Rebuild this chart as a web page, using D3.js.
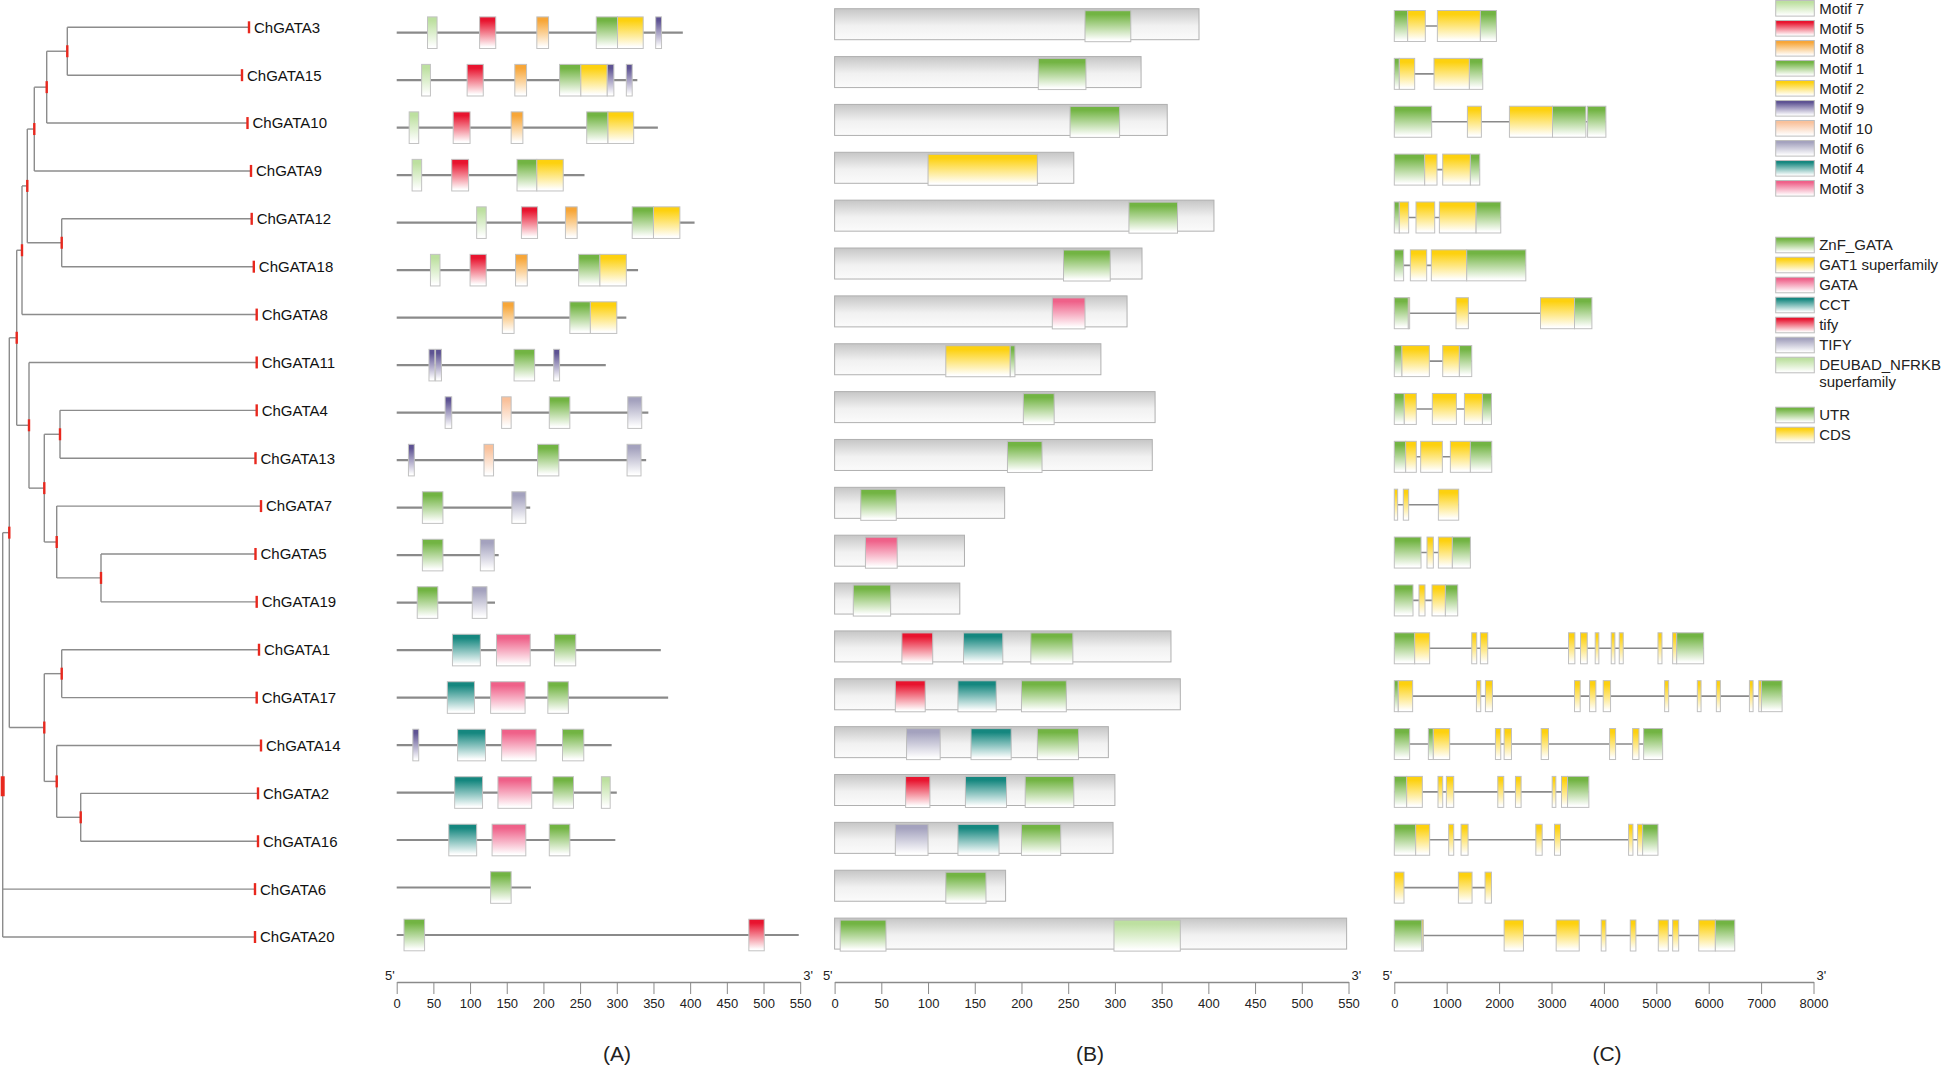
<!DOCTYPE html>
<html>
<head>
    <title>ChGATA gene family</title>
    <script src="https://d3js.org/d3.v7.min.js"></script>
    <style>
        body { margin: 0; background: #fff; }
        text { font-family: "Liberation Sans", Arial, sans-serif; }
    </style>
</head>
<body>
<script>
// gene order, top to bottom
const genes = ["ChGATA3","ChGATA15","ChGATA10","ChGATA9","ChGATA12","ChGATA18","ChGATA8","ChGATA11","ChGATA4","ChGATA13",
               "ChGATA7","ChGATA5","ChGATA19","ChGATA1","ChGATA17","ChGATA14","ChGATA2","ChGATA16","ChGATA6","ChGATA20"];

// tree with branch lengths
const treeNewick = "((((((((ChGATA3:181.7,ChGATA15:174.7):20.6,ChGATA10:200.8):12.4,ChGATA9:216.7):7,(ChGATA12:190,ChGATA18:192.1):34.4):5.3,ChGATA8:234.7):5.3," +
    "(ChGATA11:227.7,((ChGATA4:196.7,ChGATA13:195.5):15.7,(ChGATA7:204.3,(ChGATA5:154.5,ChGATA19:155.7):44.3):12.4):15.3):12.3):7.4," +
    "((ChGATA1:197.3,ChGATA17:195):17.4,(ChGATA14:204.3,(ChGATA2:177.3,ChGATA16:177.3):24):12.4):35):6.6,ChGATA6:252.3,ChGATA20:252.3);";

const proteinLength = [390,328,356,256,406,329,313,285,343,340,182,139,134,360,370,293,300,298,183,548];

const motifNames  = ["Motif 7","Motif 5","Motif 8","Motif 1","Motif 2","Motif 9","Motif 10","Motif 6","Motif 4","Motif 3"];
const motifColors = ["#bde0a0","#e8142f","#f7a638","#72b443","#fdd10f","#5e5393","#f9c19b","#a4a2be","#15877f","#ef6189"];
const domainNames  = ["ZnF_GATA","GAT1 superfamily","GATA","CCT","tify","TIFY","DEUBAD_NFRKB superfamily"];
const domainColors = ["#72b443","#fdd10f","#ef6189","#15877f","#e8142f","#a4a2be","#bde0a0"];
const partNames  = ["UTR","CDS"];
const partColors = ["#72b443","#fdd10f"];

const aaTicks = [0,50,100,150,200,250,300,350,400,450,500,550];
const bpTicks = [0,1000,2000,3000,4000,5000,6000,7000,8000];

// [gene, motif, start, end] in aa
const motifHits = [
    ["ChGATA3","Motif 7",42,55],["ChGATA3","Motif 5",113,135],["ChGATA3","Motif 8",191,207],["ChGATA3","Motif 1",272,301],["ChGATA3","Motif 2",301,336],["ChGATA3","Motif 9",353,361],
    ["ChGATA15","Motif 7",34,46],["ChGATA15","Motif 5",96,118],["ChGATA15","Motif 8",161,177],["ChGATA15","Motif 1",222,251],["ChGATA15","Motif 2",251,287],["ChGATA15","Motif 9",287,296],["ChGATA15","Motif 9",313,321],
    ["ChGATA10","Motif 7",17,30],["ChGATA10","Motif 5",77,100],["ChGATA10","Motif 8",156,172],["ChGATA10","Motif 1",259,288],["ChGATA10","Motif 2",288,323],
    ["ChGATA9","Motif 7",21,34],["ChGATA9","Motif 5",75,98],["ChGATA9","Motif 1",164,191],["ChGATA9","Motif 2",191,227],
    ["ChGATA12","Motif 7",109,122],["ChGATA12","Motif 5",170,192],["ChGATA12","Motif 8",230,246],["ChGATA12","Motif 1",321,350],["ChGATA12","Motif 2",350,386],
    ["ChGATA18","Motif 7",46,59],["ChGATA18","Motif 5",100,122],["ChGATA18","Motif 8",162,178],["ChGATA18","Motif 1",248,277],["ChGATA18","Motif 2",277,313],
    ["ChGATA8","Motif 8",144,160],["ChGATA8","Motif 1",236,264],["ChGATA8","Motif 2",264,300],
    ["ChGATA11","Motif 9",44,52],["ChGATA11","Motif 9",53,61],["ChGATA11","Motif 1",160,188],["ChGATA11","Motif 9",214,222],
    ["ChGATA4","Motif 9",66,75],["ChGATA4","Motif 10",143,156],["ChGATA4","Motif 1",208,236],["ChGATA4","Motif 6",315,334],
    ["ChGATA13","Motif 9",16,24],["ChGATA13","Motif 10",119,132],["ChGATA13","Motif 1",192,221],["ChGATA13","Motif 6",314,333],
    ["ChGATA7","Motif 1",35,63],["ChGATA7","Motif 6",157,176],
    ["ChGATA5","Motif 1",35,63],["ChGATA5","Motif 6",114,133],
    ["ChGATA19","Motif 1",28,56],["ChGATA19","Motif 6",103,123],
    ["ChGATA1","Motif 4",76,114],["ChGATA1","Motif 3",136,182],["ChGATA1","Motif 1",215,244],
    ["ChGATA17","Motif 4",69,106],["ChGATA17","Motif 3",128,175],["ChGATA17","Motif 1",206,234],
    ["ChGATA14","Motif 9",22,30],["ChGATA14","Motif 4",83,121],["ChGATA14","Motif 3",143,190],["ChGATA14","Motif 1",226,255],
    ["ChGATA2","Motif 4",79,117],["ChGATA2","Motif 3",138,184],["ChGATA2","Motif 1",213,241],["ChGATA2","Motif 7",279,291],
    ["ChGATA16","Motif 4",71,109],["ChGATA16","Motif 3",130,176],["ChGATA16","Motif 1",208,236],
    ["ChGATA6","Motif 1",128,156],
    ["ChGATA20","Motif 1",10,38],["ChGATA20","Motif 5",480,501]
];

// [gene, domain, start, end] in aa
const domainHits = [
    ["ChGATA3","ZnF_GATA",268,317],["ChGATA15","ZnF_GATA",218,269],["ChGATA10","ZnF_GATA",252,305],
    ["ChGATA9","GAT1 superfamily",100,217],["ChGATA12","ZnF_GATA",315,367],["ChGATA18","ZnF_GATA",245,295],
    ["ChGATA8","GATA",233,268],["ChGATA11","GAT1 superfamily",119,188],["ChGATA11","ZnF_GATA",188,193],
    ["ChGATA4","ZnF_GATA",202,235],["ChGATA13","ZnF_GATA",185,222],["ChGATA7","ZnF_GATA",28,66],
    ["ChGATA5","GATA",33,67],["ChGATA19","ZnF_GATA",20,60],
    ["ChGATA1","tify",72,105],["ChGATA1","CCT",138,180],["ChGATA1","ZnF_GATA",210,255],
    ["ChGATA17","tify",65,97],["ChGATA17","CCT",132,173],["ChGATA17","ZnF_GATA",200,248],
    ["ChGATA14","TIFY",77,113],["ChGATA14","CCT",146,189],["ChGATA14","ZnF_GATA",217,261],
    ["ChGATA2","tify",76,102],["ChGATA2","CCT",140,184],["ChGATA2","ZnF_GATA",204,256],
    ["ChGATA16","TIFY",65,100],["ChGATA16","CCT",132,176],["ChGATA16","ZnF_GATA",200,242],
    ["ChGATA6","ZnF_GATA",119,162],
    ["ChGATA20","ZnF_GATA",6,55],["ChGATA20","DEUBAD_NFRKB superfamily",299,370]
];

// [gene, part, start, end] in bp
const geneParts = [
    ["ChGATA3","UTR",0,255],["ChGATA3","CDS",255,592],["ChGATA3","CDS",822,1643],["ChGATA3","UTR",1643,1949],
    ["ChGATA15","UTR",0,96],["ChGATA15","CDS",96,389],["ChGATA15","CDS",758,1433],["ChGATA15","UTR",1433,1688],
    ["ChGATA10","UTR",0,713],["ChGATA10","CDS",1395,1662],["ChGATA10","CDS",2197,3019],["ChGATA10","UTR",3019,3656],["ChGATA10","UTR",3688,4038],
    ["ChGATA9","UTR",0,580],["ChGATA9","CDS",580,815],["ChGATA9","CDS",924,1452],["ChGATA9","UTR",1452,1631],
    ["ChGATA12","UTR",0,96],["ChGATA12","CDS",96,274],["ChGATA12","CDS",414,771],["ChGATA12","CDS",860,1561],["ChGATA12","UTR",1561,2032],
    ["ChGATA18","UTR",0,178],["ChGATA18","CDS",306,618],["ChGATA18","CDS",707,1382],["ChGATA18","UTR",1382,2510],
    ["ChGATA8","UTR",0,268],["ChGATA8","CDS",268,293],["ChGATA8","CDS",1178,1414],["ChGATA8","CDS",2790,3439],["ChGATA8","UTR",3439,3771],
    ["ChGATA11","UTR",0,146],["ChGATA11","CDS",146,669],["ChGATA11","CDS",924,1242],["ChGATA11","UTR",1242,1478],
    ["ChGATA4","UTR",0,191],["ChGATA4","CDS",191,420],["ChGATA4","CDS",726,1185],["ChGATA4","CDS",1338,1682],["ChGATA4","UTR",1682,1854],
    ["ChGATA13","UTR",0,217],["ChGATA13","CDS",217,420],["ChGATA13","CDS",503,917],["ChGATA13","CDS",1070,1452],["ChGATA13","UTR",1452,1860],
    ["ChGATA7","CDS",0,64],["ChGATA7","CDS",172,274],["ChGATA7","CDS",841,1229],
    ["ChGATA5","UTR",0,510],["ChGATA5","CDS",624,745],["ChGATA5","CDS",841,1108],["ChGATA5","UTR",1108,1452],
    ["ChGATA19","UTR",0,357],["ChGATA19","CDS",471,586],["ChGATA19","CDS",720,975],["ChGATA19","UTR",975,1210],
    ["ChGATA1","UTR",0,389],["ChGATA1","CDS",389,675],["ChGATA1","CDS",1478,1573],["ChGATA1","CDS",1643,1783],["ChGATA1","CDS",3325,3446],["ChGATA1","CDS",3554,3682],
    ["ChGATA1","CDS",3834,3904],["ChGATA1","CDS",4140,4210],["ChGATA1","CDS",4293,4369],["ChGATA1","CDS",5032,5108],["ChGATA1","CDS",5312,5389],["ChGATA1","UTR",5389,5904],
    ["ChGATA17","UTR",0,76],["ChGATA17","CDS",76,350],["ChGATA17","CDS",1567,1650],["ChGATA17","CDS",1739,1873],["ChGATA17","CDS",3439,3548],["ChGATA17","CDS",3726,3847],
    ["ChGATA17","CDS",3987,4127],["ChGATA17","CDS",5159,5236],["ChGATA17","CDS",5783,5854],["ChGATA17","CDS",6146,6223],["ChGATA17","CDS",6777,6847],["ChGATA17","CDS",6955,7006],["ChGATA17","UTR",7006,7401],
    ["ChGATA14","UTR",0,293],["ChGATA14","UTR",650,745],["ChGATA14","CDS",745,1057],["ChGATA14","CDS",1930,2032],["ChGATA14","CDS",2096,2236],["ChGATA14","CDS",2803,2943],
    ["ChGATA14","CDS",4108,4223],["ChGATA14","CDS",4548,4669],["ChGATA14","UTR",4758,5121],
    ["ChGATA2","UTR",0,236],["ChGATA2","CDS",236,535],["ChGATA2","CDS",834,924],["ChGATA2","CDS",994,1134],["ChGATA2","CDS",1975,2089],["ChGATA2","CDS",2312,2420],
    ["ChGATA2","CDS",3013,3083],["ChGATA2","CDS",3191,3306],["ChGATA2","UTR",3306,3713],
    ["ChGATA16","UTR",0,408],["ChGATA16","CDS",408,675],["ChGATA16","CDS",1038,1134],["ChGATA16","CDS",1274,1408],["ChGATA16","CDS",2701,2822],["ChGATA16","CDS",3057,3172],
    ["ChGATA16","CDS",4471,4554],["ChGATA16","CDS",4643,4739],["ChGATA16","UTR",4739,5032],
    ["ChGATA6","CDS",0,185],["ChGATA6","CDS",1223,1484],["ChGATA6","CDS",1732,1854],
    ["ChGATA20","UTR",0,529],["ChGATA20","CDS",529,554],["ChGATA20","CDS",2096,2465],["ChGATA20","CDS",3089,3529],["ChGATA20","CDS",3949,4038],
    ["ChGATA20","CDS",4503,4611],["ChGATA20","CDS",5038,5229],["ChGATA20","CDS",5312,5427],["ChGATA20","CDS",5809,6127],["ChGATA20","UTR",6127,6497]
];

// small newick reader
function parseNewick(s) {
    const stack = [];
    let node = { children: [] };
    const tokens = s.split(/\s*(;|\(|\)|,|:)\s*/);
    for (let i = 0; i < tokens.length; i++) {
        const t = tokens[i];
        if (t === "(") { const c = { children: [] }; node.children.push(c); stack.push(node); node = c; }
        else if (t === ",") { const c = { children: [] }; stack[stack.length - 1].children.push(c); node = c; }
        else if (t === ")") { node = stack.pop(); }
        else if (t === ":" || t === ";" || t === "") { }
        else if (tokens[i - 1] === ":") { node.length = +t; }
        else { node.name = t; }
    }
    return node;
}

const W = 1948, H = 1068;
const svg = d3.select("body").append("svg").attr("width", W).attr("height", H);
svg.append("rect").attr("width", W).attr("height", H).attr("fill", "#fff");

const colorOf = d3.scaleOrdinal()
    .domain(motifNames.concat(domainNames, partNames))
    .range(motifColors.concat(domainColors, partColors));

// fade-to-white gradients, one per colour
const defs = svg.append("defs");
const uniq = Array.from(new Set(motifColors.concat(domainColors, partColors)));
uniq.forEach(c => {
    const g = defs.append("linearGradient").attr("id", "g" + c.slice(1))
        .attr("x1", 0).attr("y1", 0).attr("x2", 0).attr("y2", 1);
    g.append("stop").attr("offset", 0).attr("stop-color", c);
    g.append("stop").attr("offset", 0.12).attr("stop-color", c);
    g.append("stop").attr("offset", 0.95).attr("stop-color", "#fff");
});
const grey = defs.append("linearGradient").attr("id", "gbar").attr("x1", 0).attr("y1", 0).attr("x2", 0).attr("y2", 1);
grey.append("stop").attr("offset", 0).attr("stop-color", "#c6c6c6");
grey.append("stop").attr("offset", 0.55).attr("stop-color", "#f1f1f1");
grey.append("stop").attr("offset", 1).attr("stop-color", "#fbfbfb");
const fillOf = k => `url(#g${colorOf(k).slice(1)})`;

// ---- tree ----
const root = d3.hierarchy(parseNewick(treeNewick));
root.eachBefore(d => d.len = d.parent ? d.parent.len + (d.data.length || 0) : 0);
const xT = d3.scaleLinear().domain([0, 260]).range([2.7, 262.7]);
const yT = d3.scalePoint().domain(genes).range([27.3, 937]);
root.eachAfter(d => { d.py = d.children ? d3.mean(d.children, c => c.py) : yT(d.data.name); });

const tree = svg.append("g");
tree.selectAll("path.h").data(root.descendants().filter(d => d.parent)).join("path")
    .attr("d", d => `M${xT(d.parent.len)},${d.py}H${xT(d.len)}`)
    .attr("stroke", "#8c8c8c").attr("stroke-width", 1.4).attr("fill", "none");
tree.selectAll("path.v").data(root.descendants().filter(d => d.children)).join("path")
    .attr("d", d => `M${xT(d.len)},${d3.min(d.children, c => c.py)}V${d3.max(d.children, c => c.py)}`)
    .attr("stroke", "#8c8c8c").attr("stroke-width", 1.4).attr("fill", "none");
tree.selectAll("line.mk").data(root.descendants()).join("line")
    .attr("x1", d => xT(d.len)).attr("x2", d => xT(d.len))
    .attr("y1", d => d.py - (d === root ? 10 : 6)).attr("y2", d => d.py + (d === root ? 10 : 6))
    .attr("stroke", "#e8281e").attr("stroke-width", d => d === root ? 4 : 2.4);
tree.selectAll("text").data(root.leaves()).join("text")
    .attr("x", d => xT(d.len) + 5).attr("y", d => d.py).attr("dy", "0.36em")
    .attr("font-size", 15).attr("fill", "#111").text(d => d.data.name);

// ---- panel A: motifs ----
const xA = d3.scaleLinear().domain([0, 550]).range([396.7, 800.2]);
const yA = d3.scalePoint().domain(genes).range([32.7, 935]);
const pA = svg.append("g");
pA.selectAll("line").data(genes).join("line")
    .attr("x1", xA(0)).attr("x2", (g, i) => xA(proteinLength[i]))
    .attr("y1", g => yA(g)).attr("y2", g => yA(g))
    .attr("stroke", "#8a8a8a").attr("stroke-width", 2.2);
pA.selectAll("rect").data(motifHits).join("rect")
    .attr("x", d => xA(d[2])).attr("width", d => xA(d[3]) - xA(d[2]))
    .attr("y", d => yA(d[0]) - 15.8).attr("height", 31.6)
    .attr("fill", d => fillOf(d[1])).attr("stroke", "#c2c2c2").attr("stroke-width", 1);

// ---- panel B: domains ----
const xB = d3.scaleLinear().domain([0, 550]).range([834.6, 1348.5]);
const yB = d3.scalePoint().domain(genes).range([24.2, 933.6]);
const pB = svg.append("g");
pB.selectAll("rect.bar").data(genes).join("rect").attr("class", "bar")
    .attr("x", xB(0)).attr("width", (g, i) => xB(proteinLength[i]) - xB(0))
    .attr("y", g => yB(g) - 15.5).attr("height", 31)
    .attr("fill", "url(#gbar)").attr("stroke", "#b0b0b0").attr("stroke-width", 1);
pB.selectAll("rect.dom").data(domainHits).join("rect").attr("class", "dom")
    .attr("x", d => xB(d[2])).attr("width", d => xB(d[3]) - xB(d[2]))
    .attr("y", d => yB(d[0]) - 13.5).attr("height", 31)
    .attr("fill", d => fillOf(d[1])).attr("stroke", "#bdbdbd").attr("stroke-width", 1);

// ---- panel C: gene structure ----
const xC = d3.scaleLinear().domain([0, 8000]).range([1394.3, 1813.5]);
const yC = d3.scalePoint().domain(genes).range([26, 935.5]);
const spans = d3.rollups(geneParts, v => [d3.min(v, d => d[2]), d3.max(v, d => d[3])], d => d[0]);
const pC = svg.append("g");
pC.selectAll("line").data(spans).join("line")
    .attr("x1", d => xC(d[1][0])).attr("x2", d => xC(d[1][1]))
    .attr("y1", d => yC(d[0])).attr("y2", d => yC(d[0]))
    .attr("stroke", "#8a8a8a").attr("stroke-width", 1.6);
pC.selectAll("rect").data(geneParts).join("rect")
    .attr("x", d => xC(d[2])).attr("width", d => Math.max(1, xC(d[3]) - xC(d[2])))
    .attr("y", d => yC(d[0]) - 15.5).attr("height", 31)
    .attr("fill", d => fillOf(d[1])).attr("stroke", "#c0c0c0").attr("stroke-width", 1);

// ---- axes ----
const axisY = 982;
function drawAxis(scale, ticks) {
    const g = svg.append("g").attr("transform", `translate(0,${axisY})`)
        .call(d3.axisBottom(scale).tickValues(ticks).tickFormat(d3.format("d"))
            .tickSize(12).tickSizeOuter(0).tickPadding(5));
    g.select(".domain").attr("stroke", "#8a8a8a").attr("stroke-width", 1.6);
    g.selectAll(".tick line").attr("stroke", "#8a8a8a").attr("stroke-width", 1);
    g.selectAll(".tick text").attr("font-size", 13).attr("fill", "#222")
        .attr("font-family", "'Liberation Sans', Arial, sans-serif");
    const r = scale.range();
    svg.append("text").attr("x", r[0] - 2).attr("y", axisY - 2).attr("text-anchor", "end")
        .attr("font-size", 13).attr("fill", "#222").text("5'");
    svg.append("text").attr("x", r[1] + 3).attr("y", axisY - 2)
        .attr("font-size", 13).attr("fill", "#222").text("3'");
}
drawAxis(xA, aaTicks);
drawAxis(xB, aaTicks);
drawAxis(xC, bpTicks);

const panelLabels = [["(A)", 617], ["(B)", 1090], ["(C)", 1607]];
svg.selectAll("text.plab").data(panelLabels).join("text").attr("class", "plab")
    .attr("x", d => d[1]).attr("y", 1061).attr("text-anchor", "middle")
    .attr("font-family", "'Liberation Serif', 'Times New Roman', serif").attr("font-size", 21)
    .attr("fill", "#222").text(d => d[0]);

// ---- legend ----
const legend = svg.append("g");
function legendRows(names, y0) {
    const g = legend.append("g");
    const row = g.selectAll("g").data(names).join("g")
        .attr("transform", (d, i) => `translate(1775.7,${y0 + i * 20})`);
    row.append("rect").attr("x", 0).attr("y", -7.8).attr("width", 38.6).attr("height", 15.6)
        .attr("fill", d => fillOf(d)).attr("stroke", "#bdbdbd").attr("stroke-width", 1);
    row.append("text").attr("x", 43.5).attr("font-size", 15).attr("fill", "#222")
        .each(function(d) {
            const parts = d === "DEUBAD_NFRKB superfamily" ? ["DEUBAD_NFRKB", "superfamily"] : [d];
            d3.select(this).selectAll("tspan").data(parts).join("tspan")
                .attr("x", 43.5).attr("dy", (p, j) => j === 0 ? "0.36em" : "1.1em").text(p => p);
        });
}
legendRows(motifNames, 8.3);
legendRows(domainNames, 245);
legendRows(partNames, 415);
</script>
</body>
</html>
